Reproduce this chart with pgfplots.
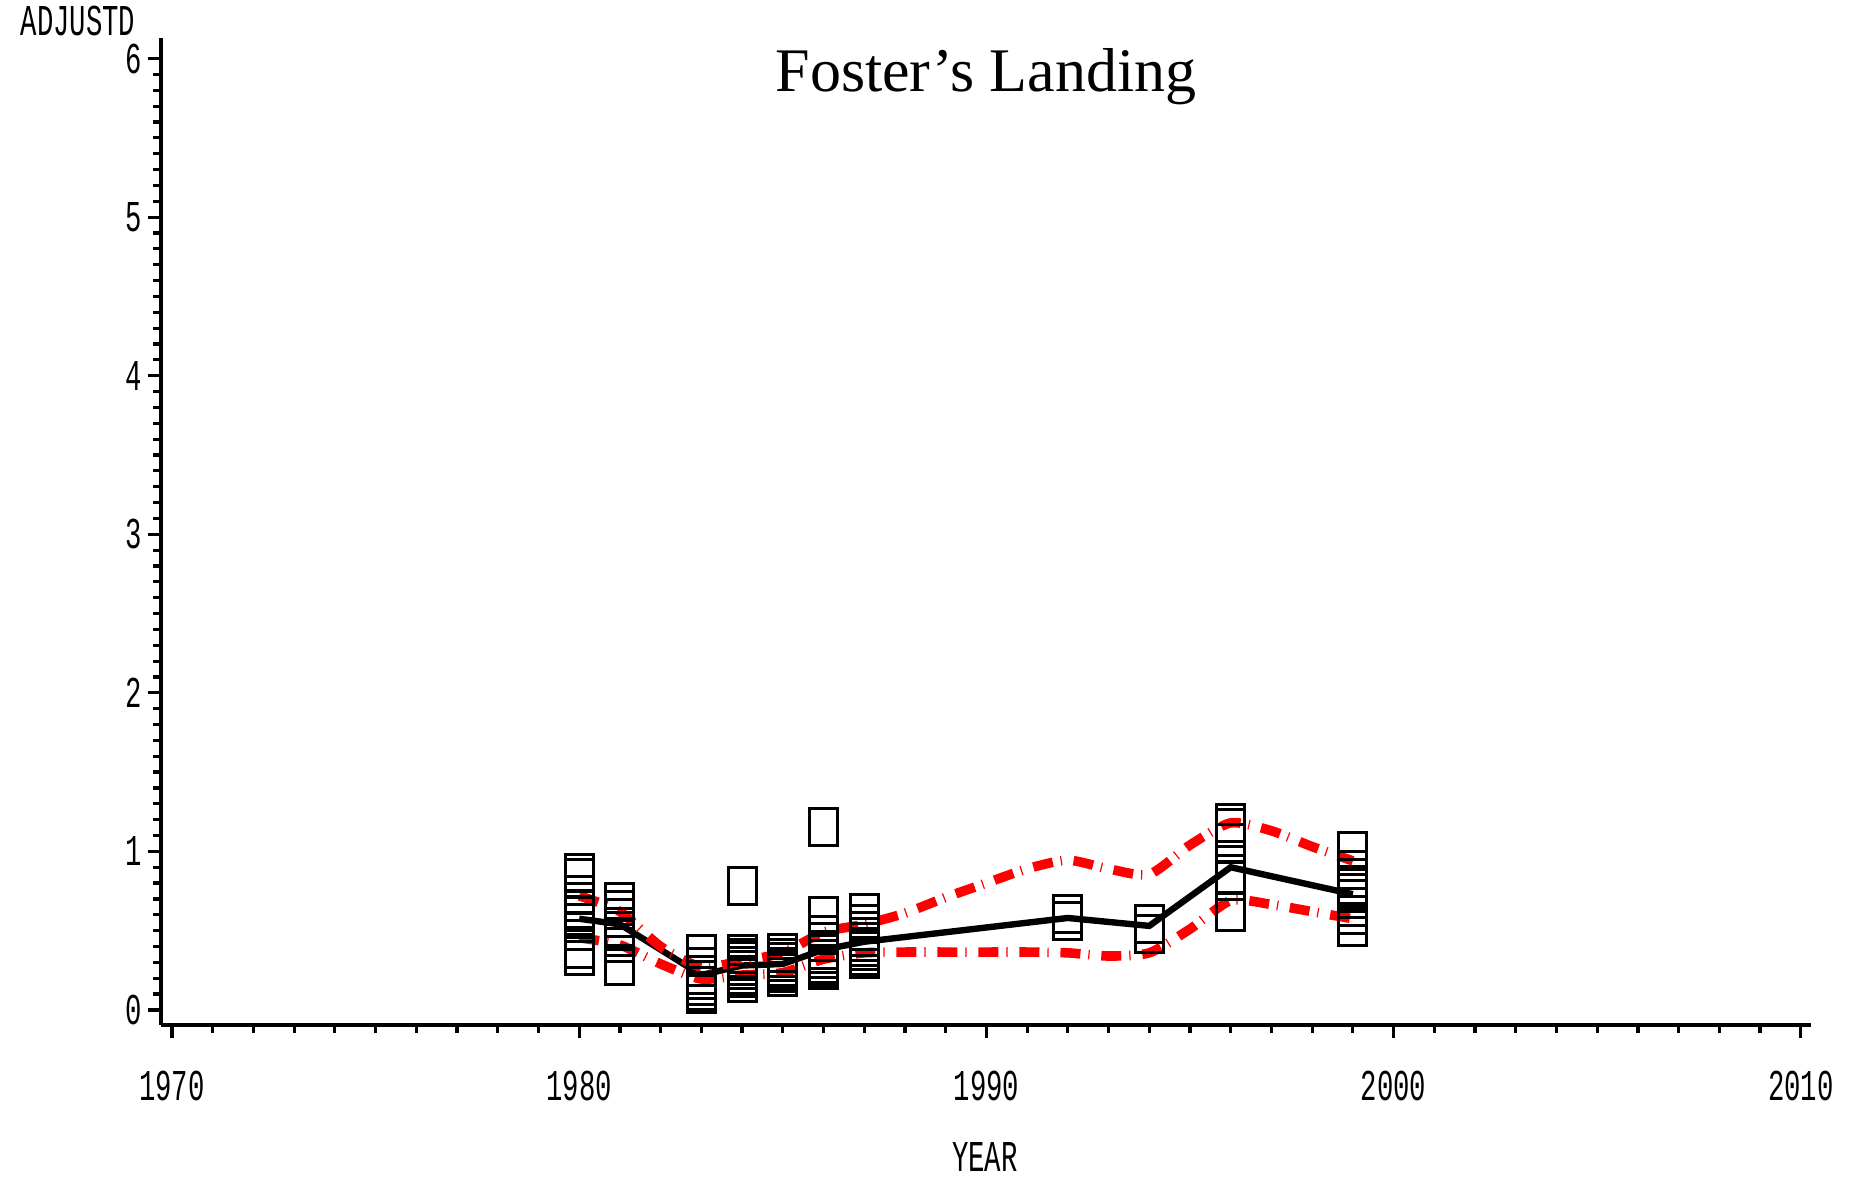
\documentclass[border=0pt]{standalone}
\usepackage{pgfplots}
\pgfplotsset{compat=1.18}
\usepackage{fontspec}
\setmainfont{Liberation Serif}
\newfontfamily\sasfont{Liberation Mono}
\newcommand{\sas}[1]{\scalebox{0.62}[1]{\sasfont\fontsize{11}{11}\selectfont #1}}

\begin{document}
\begin{tikzpicture}
\useasboundingbox (-40.25pt,-38pt) rectangle (423.75pt,256.25pt);
\begin{axis}[
  scale only axis, width=412.5pt, height=246.75pt,
  xmin=1969.73, xmax=2010.25, ymin=-0.095, ymax=6.13,
  axis lines=left, axis line style={-, line width=0.8pt},
  tick align=outside, tick style={line width=0.8pt, black},
  major tick length=3.25pt, minor tick length=2pt,
  xtick={1970,1980,1990,2000,2010},
  xticklabels={\sas{1970},\sas{1980},\sas{1990},\sas{2000},\sas{2010}},
  ytick={0,1,2,3,4,5,6},
  yticklabels={\sas{0},\sas{1},\sas{2},\sas{3},\sas{4},\sas{5},\sas{6}},
  minor x tick num=9, minor y tick num=9,
  xticklabel shift=4.75pt, yticklabel shift=-2pt,
  clip=false,
]
% observations, one open box each
\addplot[only marks, mark=square, mark size=4.625pt,
  mark options={xscale=0.757, line width=0.75pt, black}] coordinates {
  (1980,0.861) (1980,0.830) (1980,0.722) (1980,0.678) (1980,0.634)
  (1980,0.590) (1980,0.546) (1980,0.495) (1980,0.382) (1980,0.338)
  (1981,0.68) (1981,0.63) (1981,0.58) (1981,0.52) (1981,0.50)
  (1981,0.46) (1981,0.42) (1981,0.28)
  (1983,0.355) (1983,0.27) (1983,0.22) (1983,0.19) (1983,0.15)
  (1983,0.12) (1983,0.10)
  (1984,0.78) (1984,0.35) (1984,0.33) (1984,0.31) (1984,0.28)
  (1984,0.25) (1984,0.22) (1984,0.20) (1984,0.17)
  (1985,0.36) (1985,0.33) (1985,0.30) (1985,0.27) (1985,0.25)
  (1985,0.23) (1985,0.21)
  (1986,1.155) (1986,0.59) (1986,0.47) (1986,0.43) (1986,0.38)
  (1986,0.35) (1986,0.32) (1986,0.29) (1986,0.27) (1986,0.25)
  (1987,0.61) (1987,0.54) (1987,0.50) (1987,0.46) (1987,0.43)
  (1987,0.40) (1987,0.37) (1987,0.34) (1987,0.32)
  (1992,0.605) (1992,0.56)
  (1994,0.54) (1994,0.48)
  (1996,1.177) (1996,1.145) (1996,1.05) (1996,0.86) (1996,0.816) (1996,0.62)
  (1999,1.0) (1999,0.88) (1999,0.83) (1999,0.79) (1999,0.766)
  (1999,0.74) (1999,0.70) (1999,0.65) (1999,0.60) (1999,0.526)
};
% yearly mean
\addplot[black, line width=1.6pt] coordinates {
  (1980,0.575) (1981,0.54) (1983,0.22) (1984,0.28) (1985,0.29)
  (1986,0.38) (1987,0.43) (1992,0.58) (1994,0.53) (1996,0.90) (1999,0.73)
};
% upper band
\addplot[red, line width=2.4pt, smooth, tension=0.4,
  dash pattern=on 5pt off 2pt on 0.3pt off 2.95pt] coordinates {
  (1980,0.72) (1981,0.62) (1982,0.40) (1983,0.27) (1984,0.31) (1985,0.36)
  (1986,0.49) (1987,0.54) (1988,0.61) (1989,0.71) (1990,0.80) (1991,0.89)
  (1992,0.945) (1993,0.89) (1994,0.855) (1995,1.04) (1996,1.18) (1997,1.13)
  (1998,1.03) (1999,0.94)
};
% lower band
\addplot[red, line width=2.4pt, smooth, tension=0.4,
  dash pattern=on 5pt off 2pt on 0.3pt off 2.95pt] coordinates {
  (1980,0.455) (1981,0.41) (1982,0.29) (1983,0.195) (1984,0.22) (1985,0.235)
  (1986,0.32) (1987,0.36) (1988,0.365) (1989,0.365) (1990,0.365) (1991,0.365)
  (1992,0.36) (1993,0.34) (1994,0.36) (1995,0.51) (1996,0.69) (1997,0.665)
  (1998,0.62) (1999,0.575)
};
\end{axis}
\node[anchor=base, font=\fontsize{15.5}{15.5}\selectfont] at (206.25pt,233.25pt) {Foster’s Landing};
\node[inner sep=0pt] at (-20.75pt,251pt) {\sas{ADJUSTD}};
\node at (206pt,-33pt) {\sas{YEAR}};
\end{tikzpicture}
\end{document}
